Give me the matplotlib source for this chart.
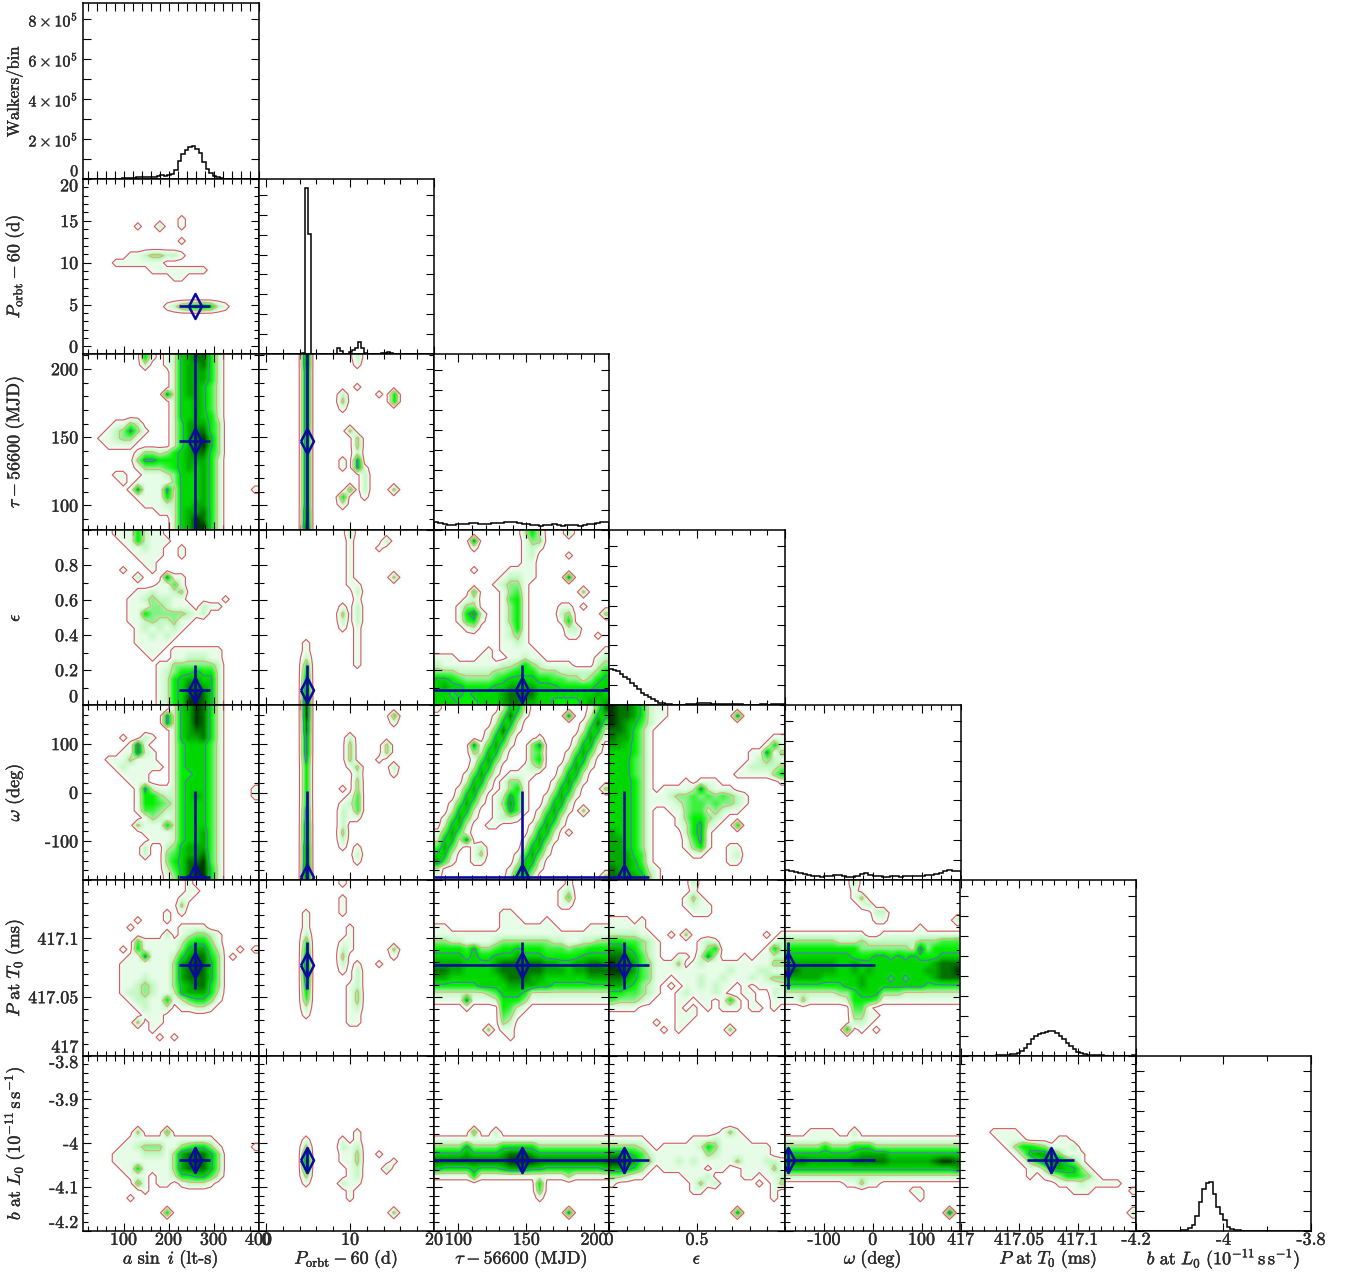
import numpy as np
import matplotlib
matplotlib.use('Agg')
import matplotlib.pyplot as plt
import matplotlib.patheffects as pe
from matplotlib.colors import LinearSegmentedColormap
from matplotlib.ticker import FixedLocator, NullLocator

plt.rcParams['font.family'] = ['cmr10', 'DejaVu Serif']
plt.rcParams['mathtext.fontset'] = 'cm'
plt.rcParams['axes.formatter.use_mathtext'] = True

# histograms on the diagonal, in units of 1e5 walkers/bin
hist_a = [0, 0, 0, 0, 0, 0, 0, 0, .01, .01, .02, .03, .03, .04, .05, .09, .1, .1, .11, .12, .12, .13, .18, .14,
          .18, .25, .45, .9, 1.25, 1.45, 1.6, 1.65, 1.5, 1.3, .85, .5, .3, .15, .08, .04, .02, .01, 0, 0, 0, 0, 0, 0, 0, 0]
hist_porb = [0, 0, 0, 0, 0, 0, 0, 0, 0, 0, 0, 0, 0, 0, 0, .05, 8.36, 6.03, 0, 0, 0, 0, 0, 0, 0, 0, .02, .3, .15, 0,
             0, .08, .2, .3, .58, .3, .05, .02, 0, 0, 0, .01, .03, .05, .08, .03, .01, 0, 0, 0, 0, 0, 0, 0, 0, 0, 0, 0, 0, 0]
hist_tau = [.4, .35, .3, .25, .25, .28, .3, .3, .35, .35, .3, .3, .32, .35, .35, .33, .38, .4, .4, .35,
            .3, .28, .25, .25, .22, .25, .25, .28, .25, .22, .25, .25, .25, .22, .25, .28, .3, .35, .42, .4]
hist_eps = [1.8, 1.75, 1.7, 1.55, 1.4, 1.3, 1.1, .95, .8, .6, .5, .4, .3, .2, .12, .08, .05, .03, .02, .02,
            .02, .02, .03, .03, .05, .1, .1, .12, .1, .05, .04, .03, .04, .05, .05, .04, .04, .03, .02, .02,
            .02, .02, .02, .03, .03, .02, .05, .04, .06, .05]
hist_omega = [.5, .45, .4, .35, .3, .25, .2, .2, .15, .2, .2, .25, .25, .2, .15, .15, .2, .3, .35, .25,
              .2, .2, .15, .15, .2, .2, .15, .2, .2, .2, .2, .2, .25, .25, .3, .35, .45, .5, .45, .45]
hist_p = [0, 0, 0, 0, 0, 0, 0, 0, 0, 0, .01, .02, .03, .05, .07, .1, .15, .23, .38, .6, .85, .98, 1.08, 1.15, 1.2,
          1.24, 1.22, 1.12, 1.0, .85, .65, .5, .35, .2, .13, .07, .05, .03, .02, .01, .01, 0, 0, 0, 0, 0, 0, 0, 0, .01]
hist_b = [0, 0, 0, 0, 0, 0, .02, .02, 0, 0, .01, .01, .02, .03, .05, .15, .3, .75, 1.47, 2.1, 2.4, 2.45, 1.85, 1.2, .85,
          .55, .2, .1, .05, .03, .01, 0, 0, 0, 0, 0, 0, 0, 0, 0, 0, 0, 0, 0, 0, 0, 0, 0, 0, 0]

# posterior maps, one digit per cell, 0 = empty .. 9 = peak
porb_a = [
    "000000000000000000000000", "000000000000000000000000", "000000000000000000000000", "000000000000000000000000",
    "000000000000000000000000", "000000000000010000000000", "000000010020010000000000", "000000000000000000000000",
    "000000000000010000000000", "000000000000000000000000", "000000112332210000000000", "000011111110000000000000",
    "000000000111111110000000", "000000000000110000000000", "000000000000000000000000", "000000000000000000000000",
    "000000000000000000000000", "000000000001245665210000", "000000000000000000000000", "000000000000000000000000",
    "000000000000000000000000", "000000000000000000000000", "000000000000000000000000", "000000000000000000000000"]
tau_a = [
    "000000005101267885200000", "000000002001267785200000", "000000000000267775200000", "000000000000267775200000",
    "000000000000267764200000", "000000000006267764200000", "000000000000266764200000", "000000000000266764200000",
    "000000000000266765200000", "000011320000257775300000", "000123631000257885300000", "001123310000257896300000",
    "000111100000257896300000", "000000013323567885300000", "000000036655567775200000", "000000013334567675200000",
    "000011001112366675200000", "000001011111366675200000", "000000161116266675200001", "000000011115266675200000",
    "000000001112266775200000", "000000000011267785200000", "000000000000267985200000", "000000000000267995200000"]
tau_porb = [
    "000000800000020000000000", "000000800000010000000000", "000000700000000000000000", "000000700000000000000000",
    "000000700000010000000000", "000000700002000010500000", "000000700003000000500000", "000000700001000000000000",
    "000000700000000000000000", "000000700000000000000000", "000000700000300000000000", "000000700000030000000000",
    "000000700000030000000000", "000000700000020000000000", "000000700001060000000000", "000000700001061000000000",
    "000000700000002000000000", "000000700000002000000000", "000000700000402000300000", "000000700005001000000000",
    "000000700002000000000000", "000000800000000000000000", "000000800000000000000000", "000000900000000000000000"]
eps_a = [
    "000011152110000000000000", "000001152111000000000000", "000000112110010000000000", "000000011110010000000000",
    "000000001100000000000000", "000001000100000000000000", "000000020006110000000000", "000000000011410000000000",
    "000000011211230000000000", "000000112322110000010000", "000000111332111021100000", "000000115333332120000000",
    "000000112322311000000000", "000000012121210000000000", "000000011212100000000000", "000000011111000000000000",
    "000000001110111111100000", "000000000100112221100000", "000000000011333333200000", "000000000012355655200000",
    "000000000012567766200000", "000000000012568876200000", "000000000012568986200000", "000000000012569986200000"]
eps_porb = [
    "000000000000200000000000", "000000000000100002000000", "000000000000100010000000", "000000000000100000000000",
    "000000000000100000000000", "000000000000100000000000", "000000000000100000300000", "000000000000110000000000",
    "000000000000020000000000", "000000000000010000000000", "000000000001020000000000", "000000000003020000000000",
    "000000000002020000000000", "000000000001010000000000", "000000000000010000000000", "000000100000010000000000",
    "000000100000010000000000", "000000200000010000000000", "000000400000010000000000", "000000500000000000000000",
    "000000600000000000000000", "000000700000000000000000", "000000800000000000000000", "000000900000000000000000"]
eps_tau = [
    "000000000000252000200000", "000006000000133000000000", "000001000000121000000000", "000000000000120000100000",
    "000000000000110000000000", "000001000011110000000000", "000000000122110000600000", "000000001233100000000000",
    "000004000134100000003000", "000012000145100000000000", "000133000135100001101000", "000157200135100002300003",
    "000145100135100001500000", "000012000125100000220000", "000000000123100000110010", "000000000112100000000000",
    "000000010111110000000001", "111000110011211000000012", "211111111223532111100023", "333222223345553332222235",
    "665433334566665544332356", "676655556677776665555566", "665656666788886666666676", "666555666788776655556767"]
omega_a = [
    "000000000000267985200000", "000000000006267985200000", "000000000006267985200000", "000000000000267885200000",
    "000001002100267785200000", "000000171000256664200000", "000001172100256664200000", "000111311100256664200000",
    "000012111110256664200000", "000001111000255664200000", "000000111000256664200000", "000000016211256664200001",
    "000000015532256764200001", "000000015543256664200000", "000000014432256664200000", "000000001321256664200000",
    "000000031115256664200000", "000000001111256674200000", "000000000111256674200000", "000000002002367774200000",
    "000000002003467784200000", "000000000003568894200000", "000000000002468995200000", "000000000001368995200000"]
omega_porb = [
    "000000900000000000000000", "000000900000000000400000", "000000800000000000100000", "000000800000000000000000",
    "000000700000200000000000", "000000700000300003000000", "000000700000300003000000", "000000600000300010000000",
    "000000500000130000200000", "000000500000020000100000", "000000500000030000000000", "000000500001030000000000",
    "000000500000140000000000", "000000500001240000000000", "000000600002140000000000", "000000600002110000000000",
    "000000700002000000000000", "000000700003000000000000", "000000700002000000000000", "000000800001010000000000",
    "000000800000020000000000", "000000800000010000000000", "000000900000000000000000", "000000900000000000000000"]
omega_tau = [
    "100000000266200000000148", "000000001484100000600266", "000000002662000000001484", "000000014841000000002662",
    "000000026620001000014741", "000006147410036000026620", "000003266200034000147410", "000001474100035000266200",
    "000002662000123001474100", "000014741011110002662000", "000026620133100014741000", "000147410135100026620003",
    "000266201264100147410000", "001474101374100266200000", "002662001264101474103000", "014741001221002662000000",
    "026620011000014741000000", "147410000000026620100000", "266260000000147410000000", "474101200000266200000000",
    "662001300001474100000000", "741001100002662000000000", "200000000014741000000000", "100000000026620000000003"]
omega_eps = [
    "988752110000000000000000", "988752110000000006000000", "987642100000000000000000", "887531000000000000000000",
    "877531000000000000000011", "776531000000000000000151", "666531000000000000011613", "666431000000000000012321",
    "666431000000000000122223", "666431000000000001111135", "666531000010111000000001", "666531011112621110000000",
    "666531112334343432100000", "666531111234434332100000", "666531001134423211000000", "666531000135532100000000",
    "666531000125621005000000", "766531000025610000000000", "776531000014610000000000", "776531000013510011000000",
    "777541000001100012000000", "777641000000000011000000", "877652100000000000000000", "887763100000000000000000"]
p_a = [
    "000000000000001000000000", "000000000000001100000000", "000000000000011000000000", "000000000000030000000000",
    "000000000001010000000000", "000000010001000000000000", "000000100000011110000000", "000000000002012332100000",
    "000000041111124553100000", "000001051111136774200101", "000000116111257885301000", "000001111111378986300000",
    "000001111111378986300000", "000001112111378886300000", "000001123211367885300000", "000001223211267775200000",
    "000000122115124553100000", "000000012112011221000000", "000000001110000000000000", "000000030110000000000000",
    "000000000100000000000000", "000000000010100000000000", "000000000000000000000000", "000000000000000000000000"]
p_porb = [
    "000000000001000000000000", "000000000000000000000000", "000000000001000000000000", "000000000001000000000000",
    "000000100001000000000000", "000000100000000000000000", "000000100000100000000000", "000000200000100000000000",
    "000000400001100000000000", "000000500002100000300000", "000000600003000000100000", "000000700002010010000000",
    "000000800001020000000000", "000000700000020000000000", "000000600000120000000000", "000000500000130000000000",
    "000000400000130000000000", "000000200000120000000000", "000000100000110000000000", "000000000000110000000000",
    "000000000000000000000000", "000000000000000000000000", "000000000000000000000000", "000000000000000000000000"]
p_tau = [
    "000000000000000000100000", "000000000000000001200000", "000000000000000001400000", "000000000000000001100000",
    "000000000110000000000000", "000000000111000100000000", "110000000111111110000111", "111111111111111111111111",
    "332211112333333322112233", "555546334556555444344555", "666656556667666555556666", "777766667888888776677887",
    "887766667888888777677888", "776666666788877666666777", "555555666677776655555555", "222222234666522222222222",
    "111161112555311111111111", "000010000542100000000000", "000000000431000000000000", "000000000320000000000000",
    "000000030110000000000000", "000000000010000000000000", "000000000000000000000000", "000000000000000000000000"]
p_eps = [
    "000000000002000000000000", "000000000001000000000000", "000000000013100000000000", "000000000012110000000000",
    "000000000001110000000000", "111010000000000000000000", "111110000000000000000000", "222211001030000000000101",
    "554432100000121000000012", "776532100000135000000152", "887642100110262000101122", "988743111301211111111133",
    "998743111111111121112211", "887643110111211211121233", "776532101011212110101112", "554432100121112100110021",
    "433321000110110151010011", "111100000101010111011010", "000000000111000000000000", "000000100110000000000000",
    "000000010100000030000000", "000000000000000000000000", "000000000000000000000000", "000000000000000000000000"]
p_omega = [
    "000000000200000000000000", "000000000100000000000000", "000000000130000000000000", "000000000012000000000000",
    "000000000000220000000000", "000000000000110000000002", "000000000000000000100000", "111111111110011111111111",
    "333333322232222222333444", "555555555533333332735555", "666666666555665656555666", "777777766766666666667888",
    "887777766767666666677889", "777776666676665656667888", "555555556676666666655555", "222222233566633322222222",
    "113111112555411111111111", "000000000441000000000000", "000000000331100000000000", "000000000221000000000000",
    "000000005010100000000000", "000000000000000000000000", "000000000000000000000000", "000000000000000000000000"]
b_a = [
    "000000000000000000000000", "000000000000000000000000", "000000000000000000000000", "000000000000000000000000",
    "000000000000000000000000", "000000000000000000000000", "000000000000000000000000", "000000000000000000000000",
    "000000000000000000000000", "000000000000000000000000", "000000030004000000000000", "000000111111111111000000",
    "000001123331134553100001", "000011112221378886300000", "000011111111378986300000", "000001151111378886300000",
    "000000111011255664200000", "000000041011012221000000", "000000001000000000000000", "000000100000000000000000",
    "000000000000000000000000", "000000000005000000000000", "000000000000000000000000", "000000000000000000000000"]
b_porb = [
    "000000000000000000000000", "000000000000000000000000", "000000000000000000000000", "000000000000000000000000",
    "000000000000000000000000", "000000000000000000000000", "000000000000000000000000", "000000000000000000000000",
    "000000000000000000000000", "000000000000000000000000", "000000000000010000000000", "000000100001010000000000",
    "000000300002120000000000", "000000600001130010000000", "000000800001130000100000", "000000600000120002000000",
    "000000300000120000000000", "000000100002110000000000", "000000000000100000000000", "000000000000100000000000",
    "000000000000000000000000", "000000000000000000300000", "000000000000000000000000", "000000000000000000000000"]
b_tau = [
    "000000000000000000000000", "000000000000000000000000", "000000000000000000000000", "000000000000000000000000",
    "000000000000000000000000", "000000000000000000000000", "000000000000000000000000", "000000000000000000000000",
    "000000000000000000000000", "000000000000000000000000", "000004002000000000000000", "111111111111111111111111",
    "333363333555553333333333", "666676666788876666666666", "888888888899998888888888", "655556555677766555555556",
    "111115111111111111311111", "000000000000005000000000", "000000000000004000000000", "000000000000001000000000",
    "000000000000000000000000", "000000000000000000600000", "000000000000000000000000", "000000000000000000000000"]
b_eps = [
    "000000000000000000000000", "000000000000000000000000", "000000000000000000000000", "000000000000000000000000",
    "000000000000000000000000", "000000000000000000000000", "000000000000000000000000", "000000000000000000000000",
    "000000000000000000000000", "000000000000000000000000", "000000000000000131000000", "111110000001112111100000",
    "333321011111253111111100", "776542111111132111111100", "998743111212111113111221", "776531011111101100111131",
    "332110000011120000110112", "100000000001312000001013", "000000000001100000000010", "000000000000000000000010",
    "000000000000000000000000", "000000000000000006000000", "000000000000000000000000", "000000000000000000000000"]
b_omega = [
    "000000000000000000000000", "000000000000000000000000", "000000000000000000000000", "000000000000000000000000",
    "000000000000000000000000", "000000000000000000000000", "000000000000000000000000", "000000000000000000000000",
    "000000000000000000000000", "000000000000000000000000", "000111100200000000000000", "111111111111111111111111",
    "333335333555333333333333", "666666666677776666666666", "888777777888887777778998", "666666666666666666666667",
    "222222222222222222222222", "000000001131100000000000", "000000000000000001100000", "000000000000000000100000",
    "000000000000000000000000", "000000000000000000000070", "000000000000000000000000", "000000000000000000000000"]
b_p = [
    "000000000000000000000000", "000000000000000000000000", "000000000000000000000000", "000000000000000000000000",
    "000000000000000000000000", "000000000000000000000000", "000000000000000000000000", "000000000000000000000000",
    "000000000000000000000000", "000000000000000000000000", "000011110000000000000000", "000001111000011000000000",
    "000000135543111200000000", "000000013677531110000000", "000000001357875310000000", "000000000113676631000000",
    "000000000101235543100000", "000000000000011121111100", "000000000000000111000001", "000000000000000000000000",
    "000000000000000000000000", "000000000000000000000002", "000000000000000000000000", "000000000000000000000000"]

# parameters in corner order
lims = [(10, 400), (-0.9, 20), (82, 211), (0, 1), (-180, 180), (417, 417.15), (-4.2, -3.8)]
best = [258, 4.88, 147, 0.088, -173, 417.077, -4.038]
err_lo = [223, 4.75, 82, 0, -180, 417.057, -4.067]
err_hi = [293, 5.0, 211, 0.23, 4, 417.097, -4.011]

x_labels = [r'$a\ \sin\ i\ \mathrm{(lt}$-$\mathrm{s)}$', r'$P_{\mathrm{orbt}}-60\ \mathrm{(d)}$',
            r'$\tau-56600\ \mathrm{(MJD)}$', r'$\epsilon$', r'$\omega\ \mathrm{(deg)}$',
            r'$P\ \mathrm{at}\ T_0\ \mathrm{(ms)}$', r'$b\ \mathrm{at}\ L_0\ (10^{-11}\,\mathrm{s\,s}^{-1})$']
y_labels = [r'$\mathrm{Walkers/bin}$'] + x_labels[1:]

x_ticks = [[100, 200, 300, 400], [0, 10, 20], [100, 150, 200], [0, 0.5, 1], [-100, 0, 100],
           [417, 417.05, 417.1, 417.15], [-4.2, -4, -3.8]]
x_tick_text = [['100', '200', '300', '400'], ['0', '10', '20'], ['100', '150', '200'], ['0', '0.5', ''],
               ['-100', '0', '100'], ['417', '417.05', '417.1', ''], ['-4.2', '-4', '-3.8']]
x_minor = [20, 2, 10, 0.1, 20, 0.01, 0.1]
y_ticks = [None, [0, 5, 10, 15, 20], [100, 150, 200], [0, 0.2, 0.4, 0.6, 0.8, 1], [-100, 0, 100],
           [417, 417.05, 417.1, 417.15], [-4.2, -4.1, -4, -3.9, -3.8]]
y_tick_text = [None, ['0', '5', '10', '15', '20'], ['100', '150', '200'], ['0', '0.2', '0.4', '0.6', '0.8', ''],
               ['-100', '0', '100'], ['417', '417.05', '417.1', ''], ['-4.2', '-4.1', '-4', '-3.9', '-3.8']]
y_minor = [1, 1, 10, 0.1, 20, 0.01, 0.02]
walker_ticks = [0, 2, 4, 6, 8]
walker_text = ['0', r'$2\times10^5$', r'$4\times10^5$', r'$6\times10^5$', r'$8\times10^5$']
walker_max = 8.8

hists = [hist_a, hist_porb, hist_tau, hist_eps, hist_omega, hist_p, hist_b]
grids = {(1, 0): porb_a, (2, 0): tau_a, (2, 1): tau_porb, (3, 0): eps_a, (3, 1): eps_porb, (3, 2): eps_tau,
         (4, 0): omega_a, (4, 1): omega_porb, (4, 2): omega_tau, (4, 3): omega_eps,
         (5, 0): p_a, (5, 1): p_porb, (5, 2): p_tau, (5, 3): p_eps, (5, 4): p_omega,
         (6, 0): b_a, (6, 1): b_porb, (6, 2): b_tau, (6, 3): b_eps, (6, 4): b_omega, (6, 5): b_p}

W, H = 1347, 1272
col_edges = [83, 258.5, 434, 609, 785, 960.5, 1136, 1311]
row_edges = [3, 179, 354, 530, 705, 880, 1055.5, 1231]
TEXT = '#2a2a2a'
BLUE = '#0a0a9c'
DIAMOND = [(-0.52, 0), (0, 1), (0.52, 0), (0, -1), (-0.52, 0)]
HEAVY = [pe.withStroke(linewidth=0.3, foreground=TEXT)]

cmap = LinearSegmentedColormap.from_list('walkers', [
    '#ffffff', '#e6fce6', '#c4f8c4', '#86f086', '#3cf03c', '#00f000', '#00d600', '#00ac00', '#007400', '#003600'])


def read_grid(rows):
    return np.array([[int(ch) for ch in row.ljust(24, '0')[:24]] for row in rows], dtype=float)


def draw_density(ax, rows, xlim, ylim):
    z = read_grid(rows)
    ax.imshow(z, extent=(xlim[0], xlim[1], ylim[0], ylim[1]), origin='upper', aspect='auto',
              cmap=cmap, vmin=0, vmax=9, interpolation='bilinear')
    # pad so the contours run out to the frame
    zp = np.pad(z, 1, mode='edge')
    dx = (xlim[1] - xlim[0]) / z.shape[1]
    dy = (ylim[1] - ylim[0]) / z.shape[0]
    xc = xlim[0] + dx * (np.arange(zp.shape[1]) - 0.5)
    yc = ylim[1] - dy * (np.arange(zp.shape[0]) - 0.5)
    ax.contour(xc, yc, zp, levels=[0.5], colors='#d4596b', linewidths=0.8)
    ax.contour(xc, yc, zp, levels=[2.5], colors='#dcb27a', linewidths=0.8)
    ax.contour(xc, yc, zp, levels=[5.5], colors='#5a70c4', linewidths=0.8)


fig = plt.figure(figsize=(W / 100, H / 100), dpi=100)

for r in range(7):
    for c in range(r + 1):
        left, right = col_edges[c], col_edges[c + 1]
        top, bottom = row_edges[r], row_edges[r + 1]
        ax = fig.add_axes([left / W, 1 - bottom / H, (right - left) / W, (bottom - top) / H])
        xlim = lims[c]

        if r == c:
            ax.stairs(hists[c], np.linspace(xlim[0], xlim[1], len(hists[c]) + 1), color='k', lw=1.1)
            ylim = (0, walker_max)
        else:
            ylim = lims[r]
            draw_density(ax, grids[(r, c)], xlim, ylim)
            ax.plot([err_lo[c], err_hi[c]], [best[r], best[r]], color=BLUE, lw=1.9, solid_capstyle='butt')
            ax.plot([best[c], best[c]], [err_lo[r], err_hi[r]], color=BLUE, lw=1.9, solid_capstyle='butt')
            ax.plot([best[c]], [best[r]], marker=DIAMOND, ms=18, mfc='none', mec=BLUE, mew=1.8)

        ax.set_xlim(xlim)
        ax.set_ylim(ylim)

        # ticks
        ax.xaxis.set_major_locator(FixedLocator(x_ticks[c]))
        ax.xaxis.set_minor_locator(FixedLocator(np.arange(xlim[0] - xlim[0] % x_minor[c], xlim[1] + x_minor[c], x_minor[c])))
        if r == c:
            ax.yaxis.set_major_locator(FixedLocator(np.arange(0, 9)))
            ax.yaxis.set_minor_locator(NullLocator())
        else:
            ax.yaxis.set_major_locator(FixedLocator(y_ticks[r]))
            ax.yaxis.set_minor_locator(FixedLocator(np.arange(ylim[0] - ylim[0] % y_minor[r], ylim[1] + y_minor[r], y_minor[r])))
        ax.tick_params(which='both', direction='in', top=True, right=True, width=0.8, colors='k',
                       labelcolor=TEXT, labelsize=13, labelbottom=False, labelleft=False)
        ax.tick_params(which='major', length=5.8)
        ax.tick_params(which='minor', length=3.6)
        for s in ax.spines.values():
            s.set_linewidth(1.1)

        # labels on the outer edge only
        if r == 6:
            ax.tick_params(axis='x', labelbottom=True, pad=1)
            ax.set_xticklabels(x_tick_text[c])
            ax.set_xlabel(x_labels[c], fontsize=13, color=TEXT, va='center', path_effects=HEAVY)
            ax.xaxis.set_label_coords(0.5, -0.16)
            for lab in ax.get_xticklabels():
                lab.set_path_effects(HEAVY)
        if c == 0:
            ax.tick_params(axis='y', labelleft=True, pad=3.5)
            if r == 0:
                ax.set_yticks(walker_ticks)
                ax.set_yticklabels(walker_text, fontsize=11.5)
                ax.yaxis.set_minor_locator(FixedLocator([1, 3, 5, 7]))
                ax.tick_params(which='minor', length=5.8)
            else:
                ax.set_yticklabels(y_tick_text[r])
            ax.set_ylabel(y_labels[r], fontsize=12 if r == 0 else 13, color=TEXT, va='center', path_effects=HEAVY)
            ax.yaxis.set_label_coords(-0.39, 0.5)
            # end labels are pushed inside the frame
            ticks = ax.get_yticks()
            for val, lab in zip(ticks, ax.get_yticklabels()):
                lab.set_path_effects(HEAVY)
                if abs(val - ylim[1]) < 1e-6 * max(1, abs(ylim[1])):
                    lab.set_verticalalignment('top')
                elif abs(val - ylim[0]) < 1e-6 * max(1, abs(ylim[0])):
                    lab.set_verticalalignment('bottom')

fig.savefig('out.png', dpi=100)
